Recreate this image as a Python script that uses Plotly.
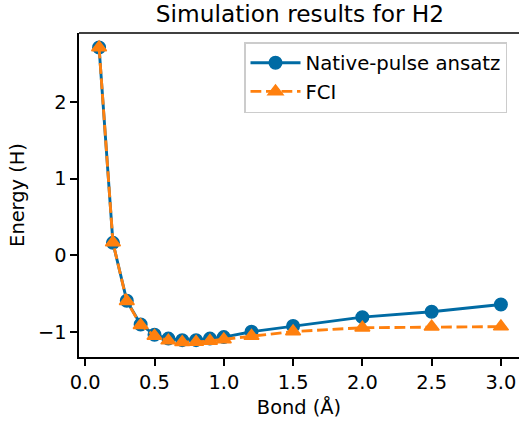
import plotly.graph_objects as go

bond = [0.1, 0.2, 0.3, 0.4, 0.5, 0.6, 0.7, 0.8, 0.9, 1.0, 1.2, 1.5, 2.0, 2.5, 3.0]
native_pulse = [2.71, 0.16, -0.595, -0.905, -1.04, -1.09, -1.11, -1.11, -1.09, -1.07, -1.0, -0.925, -0.81, -0.74, -0.645]
fci = [2.71, 0.164, -0.601, -0.914, -1.055, -1.116, -1.136, -1.134, -1.120, -1.101, -1.056, -0.998, -0.948, -0.936, -0.933]
x_ticks = [0.0, 0.5, 1.0, 1.5, 2.0, 2.5, 3.0]
x_tick_labels = ["0.0", "0.5", "1.0", "1.5", "2.0", "2.5", "3.0"]
y_ticks = [-1, 0, 1, 2]

BLUE = "#006BA4"
ORANGE = "#FF800E"
FONT = "DejaVu Sans"
FS = 19.7

fig = go.Figure()
fig.add_trace(go.Scatter(
    x=bond, y=native_pulse, mode="lines+markers", name="Native-pulse ansatz",
    line=dict(color=BLUE, width=2.9),
    marker=dict(symbol="circle", size=12.5, color=BLUE, line=dict(width=1.5, color=BLUE)),
))
fig.add_trace(go.Scatter(
    x=bond, y=fci, mode="lines+markers", name="FCI",
    line=dict(color=ORANGE, width=2.9, dash="10.8px,4.7px"),
    marker=dict(symbol="triangle-up", size=13, color=ORANGE, line=dict(width=1.5, color=ORANGE)),
))

W, H = 519, 424
L, T, B = 79, 33, 67
fig.update_layout(
    width=W, height=H,
    margin=dict(l=L, r=0, t=T, b=B),
    paper_bgcolor="white", plot_bgcolor="white",
    font=dict(family=FONT, size=FS, color="black"),
    title=dict(text="Simulation results for H2", font=dict(size=19.4 * 1.2),
               x=(300 - L) / (W - L), xref="paper", xanchor="center",
               y=1 - 14 / H, yref="container", yanchor="middle"),
    showlegend=True,
    legend=dict(x=(244 - L) / (W - L), y=1 - (42 - T) / (H - T - B), xanchor="left", yanchor="top",
                bgcolor="rgba(255,255,255,0.8)", bordercolor="#cccccc", borderwidth=1.5,
                font=dict(size=FS), itemwidth=50),
    xaxis=dict(range=[-0.045, 3.1305], tickvals=x_ticks, ticktext=x_tick_labels,
               showgrid=False, zeroline=False, showline=True, linecolor="black", linewidth=1.56,
               ticks="outside", ticklen=6.8, tickwidth=1.56, tickcolor="black",
               tickfont=dict(size=19.4),
               title=dict(text="Bond (Å)", standoff=8, font=dict(size=19.4))),
    yaxis=dict(range=[-1.33, 2.90], tickvals=y_ticks,
               showgrid=False, zeroline=False, showline=True, linecolor="black", linewidth=1.56,
               ticks="outside", ticklen=6.8, tickwidth=1.56, tickcolor="black",
               tickfont=dict(size=19.4),
               title=dict(text="Energy (H)", standoff=8, font=dict(size=19.4))),
    shapes=[dict(type="line", xref="paper", yref="paper", x0=0, x1=1.01, y0=1, y1=1,
                 line=dict(color="black", width=1.56))],
)

fig.write_html("out.html")
